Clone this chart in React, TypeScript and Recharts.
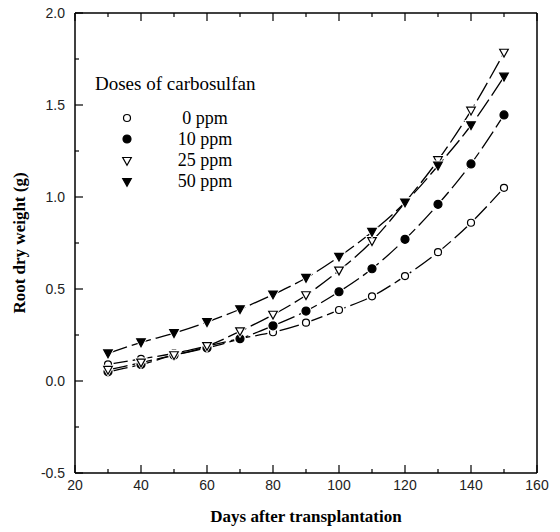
import { LineChart, Line, XAxis, YAxis } from "recharts";

const days = [30, 40, 50, 60, 70, 80, 90, 100, 110, 120, 130, 140, 150];
const ppm0 = [0.09, 0.12, 0.15, 0.19, 0.23, 0.265, 0.317, 0.386, 0.46, 0.57, 0.7, 0.86, 1.05];
const ppm10 = [0.05, 0.09, 0.14, 0.18, 0.23, 0.3, 0.38, 0.485, 0.61, 0.77, 0.96, 1.18, 1.446];
const ppm25 = [0.06, 0.1, 0.14, 0.19, 0.27, 0.36, 0.466, 0.6, 0.76, 0.97, 1.2, 1.469, 1.784];
const ppm50 = [0.15, 0.21, 0.26, 0.32, 0.39, 0.47, 0.56, 0.675, 0.81, 0.97, 1.17, 1.39, 1.654];

const xTicks = [20, 30, 40, 50, 60, 70, 80, 90, 100, 110, 120, 130, 140, 150, 160];
const yTicks = [-0.5, -0.25, 0, 0.25, 0.5, 0.75, 1, 1.25, 1.5, 1.75, 2];
const doseLabels = ["0 ppm", "10 ppm", "25 ppm", "50 ppm"];

const data = days.map((d, i) => ({
  day: d,
  p0: ppm0[i],
  p10: ppm10[i],
  p25: ppm25[i],
  p50: ppm50[i],
}));

const SERIF = '"Liberation Serif", "Times New Roman", serif';
const SANS = '"Liberation Sans", Arial, sans-serif';

type Shape = "circleOpen" | "circle" | "triOpen" | "tri";
const shapes: Shape[] = ["circleOpen", "circle", "triOpen", "tri"];

const marker = (shape: Shape, cx: number, cy: number, halo = true) => {
  const open = shape === "circleOpen" || shape === "triOpen";
  const fill = open ? "#fff" : "#000";
  if (shape === "circleOpen" || shape === "circle") {
    return (
      <g>
        {halo && <circle cx={cx} cy={cy} r={5.8} fill="#fff" />}
        <circle cx={cx} cy={cy} r={open ? 3.5 : 4} fill={fill} stroke="#000" strokeWidth={1.2} />
      </g>
    );
  }
  const pts = `${cx - 4.3},${cy - 3.5} ${cx + 4.3},${cy - 3.5} ${cx},${cy + 4.3}`;
  const haloPts = `${cx - 7},${cy - 5.2} ${cx + 7},${cy - 5.2} ${cx},${cy + 7}`;
  return (
    <g>
      {halo && <polygon points={haloPts} fill="#fff" />}
      <polygon points={pts} fill={fill} stroke="#000" strokeWidth={1.2} strokeLinejoin="miter" />
    </g>
  );
};

const dotFor = (shape: Shape) => (props: any) => (
  <g key={`${shape}-${props.index}`}>{marker(shape, props.cx, props.cy)}</g>
);

const isMajorY = (v: number) => Math.abs(v * 2 - Math.round(v * 2)) < 1e-6;
const isMajorX = (v: number) => v % 20 === 0;

const LeftTick = (props: any) => {
  const { x, y, payload } = props;
  const major = isMajorY(payload.value);
  return (
    <g>
      <line x1={x} x2={x + (major ? 8 : 4)} y1={y} y2={y} stroke="#000" strokeWidth={1.2} />
      {major && (
        <text x={x - 10} y={y} dy={5} textAnchor="end" fontFamily={SANS} fontSize={14} fill="#222">
          {payload.value.toFixed(1)}
        </text>
      )}
    </g>
  );
};

const RightTick = (props: any) => {
  const { x, y, payload } = props;
  const major = isMajorY(payload.value);
  return <line x1={x} x2={x - (major ? 8 : 4)} y1={y} y2={y} stroke="#000" strokeWidth={1.2} />;
};

const BottomTick = (props: any) => {
  const { x, y, payload } = props;
  const major = isMajorX(payload.value);
  return (
    <g>
      <line x1={x} x2={x} y1={y} y2={y - (major ? 8 : 4)} stroke="#000" strokeWidth={1.2} />
      {major && (
        <text x={x} y={y + 17} textAnchor="middle" fontFamily={SANS} fontSize={14} fill="#222">
          {payload.value}
        </text>
      )}
    </g>
  );
};

const TopTick = (props: any) => {
  const { x, y, payload } = props;
  const major = isMajorX(payload.value);
  return <line x1={x} x2={x} y1={y} y2={y + (major ? 8 : 4)} stroke="#000" strokeWidth={1.2} />;
};

const axisLine = { stroke: "#000", strokeWidth: 1.5 };

export default function App() {
  return (
    <div style={{ position: "absolute", left: 0, top: 0, width: 560, height: 532, background: "#fff" }}>
      <LineChart width={560} height={532} data={data} margin={{ top: 8, right: 13, bottom: 19, left: 15 }}>
        <XAxis
          xAxisId={0}
          dataKey="day"
          type="number"
          domain={[20, 160]}
          ticks={xTicks}
          interval={0}
          height={40}
          tickSize={0}
          tickMargin={0}
          tickLine={false}
          axisLine={axisLine}
          tick={<BottomTick />}
        />
        <XAxis
          xAxisId="top"
          orientation="top"
          dataKey="day"
          type="number"
          domain={[20, 160]}
          ticks={xTicks}
          interval={0}
          height={5}
          tickSize={0}
          tickMargin={0}
          tickLine={false}
          axisLine={axisLine}
          tick={<TopTick />}
        />
        <YAxis
          yAxisId={0}
          type="number"
          domain={[-0.5, 2]}
          ticks={yTicks}
          interval={0}
          width={60}
          tickSize={0}
          tickMargin={0}
          tickLine={false}
          axisLine={axisLine}
          tick={<LeftTick />}
        />
        <YAxis
          yAxisId="right"
          orientation="right"
          type="number"
          domain={[-0.5, 2]}
          ticks={yTicks}
          interval={0}
          width={10}
          tickSize={0}
          tickMargin={0}
          tickLine={false}
          axisLine={axisLine}
          tick={<RightTick />}
        />
        {(["p0", "p10", "p25", "p50"] as const).map((k, i) => (
          <Line
            key={k}
            dataKey={k}
            type="monotone"
            stroke="#000"
            strokeWidth={1.3}
            strokeDasharray="20 5"
            dot={dotFor(shapes[i])}
            activeDot={false}
            isAnimationActive={false}
          />
        ))}
      </LineChart>

      <div
        style={{
          position: "absolute",
          left: 95,
          top: 73,
          fontFamily: SERIF,
          fontSize: 19,
          lineHeight: "22px",
          color: "#000",
          whiteSpace: "nowrap",
        }}
      >
        Doses of carbosulfan
      </div>
      {doseLabels.map((d, i) => (
        <div
          key={d}
          style={{
            position: "absolute",
            left: 118,
            top: 108 + i * 21.3,
            height: 20,
            display: "flex",
            alignItems: "center",
            fontFamily: SERIF,
            fontSize: 18,
            color: "#000",
            whiteSpace: "nowrap",
          }}
        >
          <svg width={18} height={20} style={{ display: "block" }}>
            {marker(shapes[i], 9, 10, false)}
          </svg>
          <span style={{ display: "inline-block", width: 58, marginLeft: 40, textAlign: "center" }}>{d}</span>
        </div>
      ))}

      <div
        style={{
          position: "absolute",
          left: 20,
          top: 243,
          transform: "translate(-50%, -50%) rotate(-90deg)",
          fontFamily: SERIF,
          fontWeight: "bold",
          fontSize: 17,
          whiteSpace: "nowrap",
        }}
      >
        Root dry weight (g)
      </div>
      <div
        style={{
          position: "absolute",
          left: 306,
          top: 517,
          transform: "translate(-50%, -50%)",
          fontFamily: SERIF,
          fontWeight: "bold",
          fontSize: 17,
          whiteSpace: "nowrap",
        }}
      >
        Days after transplantation
      </div>
    </div>
  );
}
